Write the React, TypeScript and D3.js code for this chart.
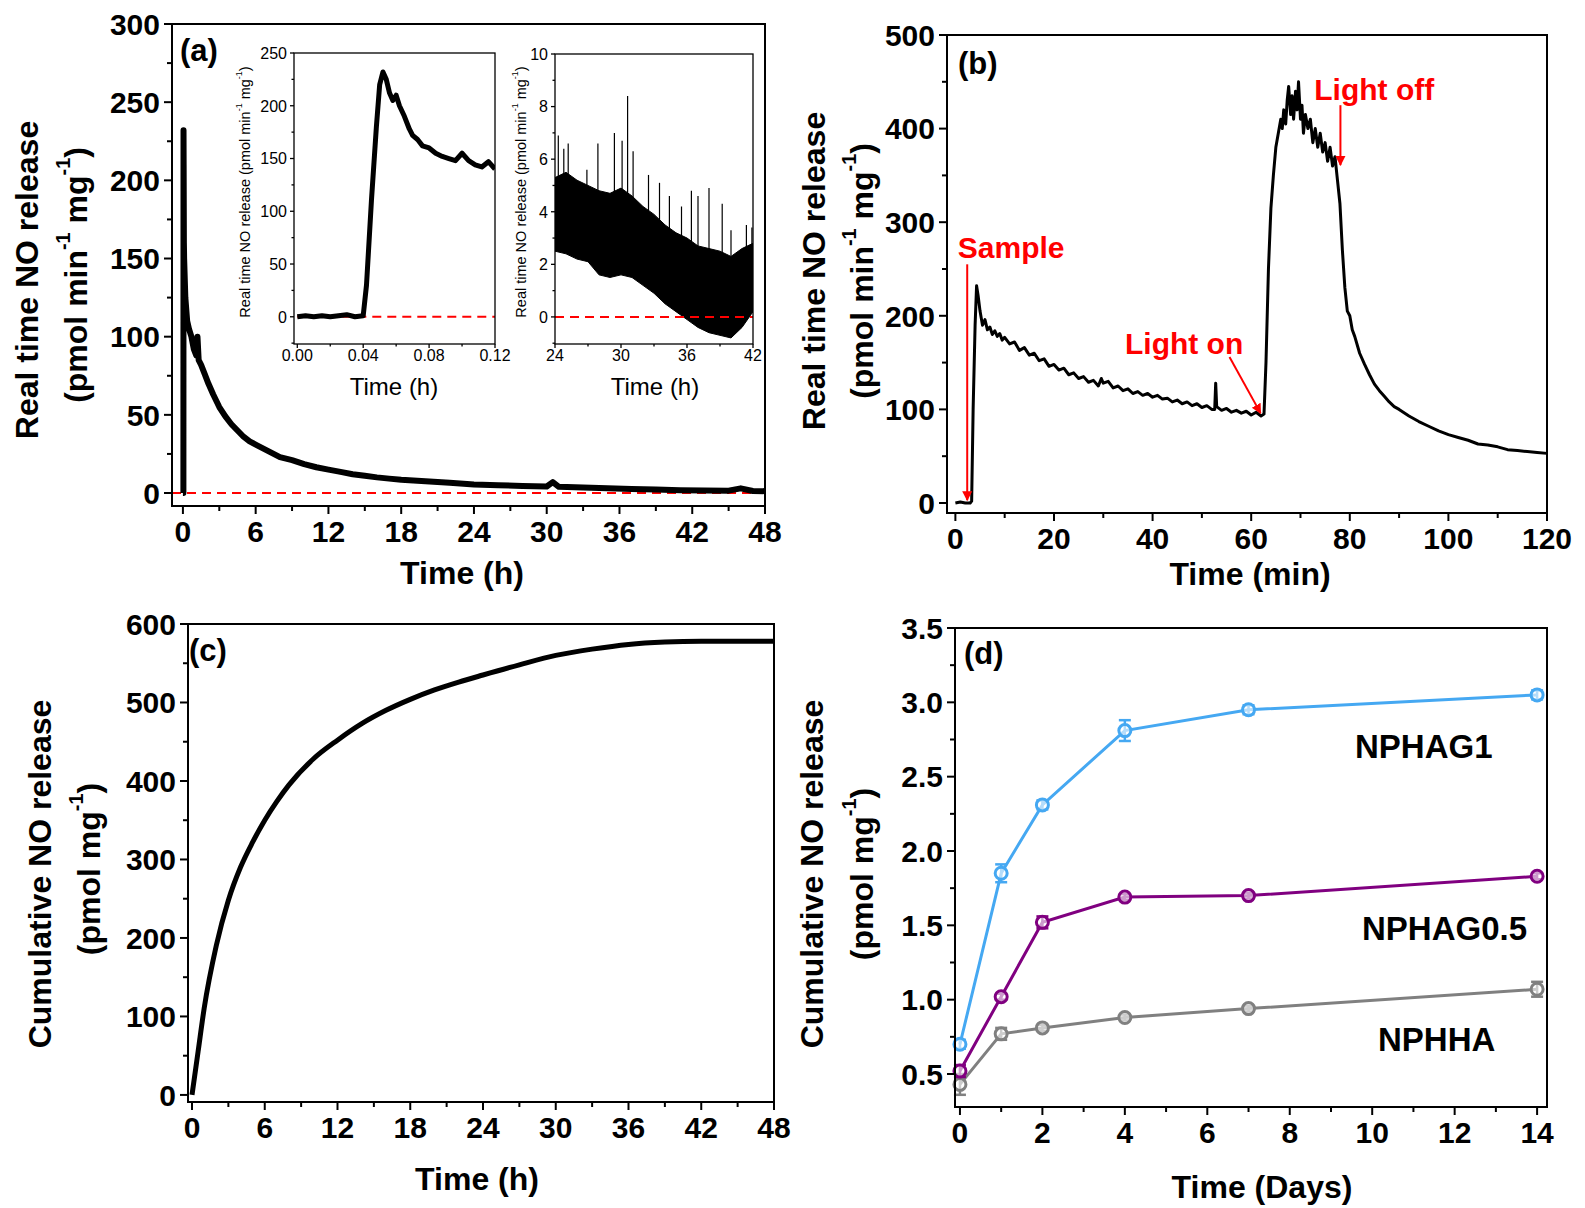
import React from 'react';
import * as d3 from 'd3';

const FONT = '"Liberation Sans", Arial, sans-serif';

// ---- panel (a): real time release over 48 h ----
const aTime = [0, 0.02, 0.04, 0.05, 0.06, 0.08, 0.1, 0.2, 0.35, 0.5, 0.7, 0.9, 1.1, 1.2, 1.3, 1.5, 1.8, 2.1, 2.5, 3, 3.5, 4, 4.5, 5, 5.5, 6, 7, 8, 9, 10, 11, 12, 13, 14, 15, 16, 17, 18, 19, 20, 22, 24, 26, 28, 30, 30.5, 31, 33, 35, 37, 39, 41, 43, 45, 46, 47, 48];
const aValue = [0, 0, 0, 232, 210, 160, 150, 125, 110, 105, 100, 92, 88, 100, 85, 82, 76, 70, 63, 55, 49, 44, 40, 36, 33, 31, 27, 23, 21, 18.5, 16.5, 15, 13.5, 12, 11, 10, 9.2, 8.5, 8, 7.5, 6.5, 5.5, 5, 4.5, 4.2, 7, 4, 3.5, 3, 2.6, 2.2, 1.8, 1.6, 1.5, 3, 1.3, 1.2];

// inset 1: first 0.12 h
const in1Time = [0, 0.005, 0.01, 0.015, 0.02, 0.025, 0.03, 0.035, 0.04, 0.042, 0.045, 0.048, 0.05, 0.052, 0.054, 0.056, 0.058, 0.06, 0.062, 0.065, 0.068, 0.07, 0.073, 0.076, 0.08, 0.084, 0.088, 0.092, 0.096, 0.1, 0.104, 0.108, 0.112, 0.116, 0.12];
const in1Value = [0, 1, 0, 1, 0, 1, 2, 0, 1, 30, 110, 180, 220, 232, 225, 212, 205, 210, 200, 190, 178, 172, 168, 162, 160, 155, 152, 150, 148, 155, 148, 144, 142, 147, 140];

// inset 2: 24-42 h, noisy band + spikes
const in2Time = [24, 25, 26, 27, 28, 29, 30, 31, 32, 33, 34, 35, 36, 37, 38, 39, 40, 41, 42];
const in2Upper = [5.3, 5.5, 5.2, 5.0, 4.8, 4.7, 4.9, 4.6, 4.2, 3.9, 3.5, 3.2, 3.0, 2.7, 2.6, 2.5, 2.3, 2.6, 2.8];
const in2Lower = [2.5, 2.4, 2.2, 2.1, 1.6, 1.5, 1.6, 1.5, 1.2, 0.9, 0.5, 0.2, -0.1, -0.4, -0.6, -0.7, -0.8, -0.4, 0.2];
const in2SpikeTime = [24.3, 24.8, 25.2, 26.9, 27.9, 29.4, 30.1, 30.6, 31.1, 32.5, 33.5, 34.4, 35.5, 36.4, 37.0, 38.0, 39.2, 40.0, 41.4, 41.9];
const in2SpikeValue = [6.9, 6.4, 6.6, 5.6, 6.6, 7.0, 6.7, 8.4, 6.3, 5.4, 5.1, 4.6, 4.2, 4.8, 4.6, 4.9, 4.3, 3.3, 3.5, 3.4];

// ---- panel (b): light triggered release, minutes ----
const bTime = [0, 1, 2, 3, 3.3, 3.6, 4, 4.3, 4.6, 5, 5.5, 6, 6.5, 7, 7.5, 8, 8.5, 9, 9.5, 10, 11, 12, 13, 14, 15, 16, 17, 18, 19, 20, 21, 22, 23, 24, 25, 26, 27, 28, 29, 29.6, 30, 31, 32, 33, 34, 35, 36, 37, 38, 39, 40, 41, 42, 43, 44, 45, 46, 47, 48, 49, 50, 51, 52, 52.6, 52.8, 53, 54, 55, 56, 57, 58, 59, 60, 61, 62, 62.6, 63, 63.5, 64, 64.5, 65, 65.5, 66, 66.3, 66.6, 67, 67.3, 67.6, 68, 68.3, 68.6, 69, 69.3, 69.6, 70, 70.3, 70.6, 71, 71.5, 72, 72.5, 73, 73.5, 74, 74.5, 75, 75.5, 76, 76.5, 77, 77.5, 78, 78.5, 79, 79.5, 80, 80.5, 81, 82, 83, 84, 85, 86, 87, 88, 89, 90, 92, 94, 96, 98, 100, 102, 104, 106, 108, 110, 112, 114, 116, 118, 120];
const bValue = [0, 1, 0, 0, 2, 100, 190, 232, 222, 205, 190, 196, 185, 188, 180, 184, 178, 181, 174, 177, 170, 172, 163, 166, 158, 160, 152, 154, 146, 148, 142, 144, 137, 139, 133, 135, 129, 131, 125, 133, 128, 130, 123, 125, 120, 122, 117, 119, 115, 117, 113, 115, 111, 112, 108, 110, 106, 108, 104, 106, 102, 104, 100, 100, 128, 103, 99, 101, 97, 99, 96, 98, 94, 97, 93, 95, 150, 250, 315, 350, 380, 395, 410, 400, 420, 405, 430, 445, 415, 435, 410, 440, 420, 450, 410, 425, 395, 415, 400, 410, 385, 400, 380, 395, 375, 385, 365, 380, 360, 370, 345, 320, 270, 230, 205, 200, 185, 178, 160, 148, 137, 127, 120, 114, 108, 103, 100, 93, 87, 82, 77, 73, 70, 67, 63, 62, 60, 57, 56, 55, 54, 53];

// ---- panel (c): cumulative release ----
const cTime = [0, 0.5, 1, 2, 3, 4, 5, 6, 7, 8, 10, 12, 14, 16, 18, 20, 22, 24, 27, 30, 33, 36, 39, 42, 45, 48];
const cValue = [0, 55, 110, 190, 248, 290, 322, 350, 374, 395, 428, 452, 473, 490, 504, 516, 526, 535, 548, 560, 568, 574, 577, 578, 578, 578];

// ---- panel (d): cumulative release over days ----
const dDays = [0, 1, 2, 4, 7, 14];
const nphag1 = [0.7, 1.85, 2.31, 2.81, 2.95, 3.05];
const nphag1Err = [0.03, 0.06, 0.03, 0.07, 0.03, 0.03];
const nphag05 = [0.52, 1.02, 1.52, 1.69, 1.7, 1.83];
const nphag05Err = [0.04, 0.02, 0.04, 0.02, 0.02, 0.02];
const nphha = [0.43, 0.77, 0.81, 0.88, 0.94, 1.07];
const nphhaErr = [0.07, 0.04, 0.02, 0.02, 0.02, 0.05];

// tick labels
const aXTicks = [0, 6, 12, 18, 24, 30, 36, 42, 48];
const aYTicks = [0, 50, 100, 150, 200, 250, 300];
const in1XTicks = [0, 0.04, 0.08, 0.12];
const in1YTicks = [0, 50, 100, 150, 200, 250];
const in2XTicks = [24, 30, 36, 42];
const in2YTicks = [0, 2, 4, 6, 8, 10];
const bXTicks = [0, 20, 40, 60, 80, 100, 120];
const bYTicks = [0, 100, 200, 300, 400, 500];
const cYTicks = [0, 100, 200, 300, 400, 500, 600];
const dXTicks = [0, 2, 4, 6, 8, 10, 12, 14];
const dYTicks = [0.5, 1, 1.5, 2, 2.5, 3, 3.5];

const zip = (xs: number[], ys: number[]) => xs.map((x, i) => [x, ys[i]] as [number, number]);
const range = (a: number, b: number, s: number) => d3.range(a, b + s / 2, s).map(v => +v.toFixed(4));

type AxesProps = {
  box: [number, number, number, number];
  xs: d3.ScaleLinear<number, number>;
  ys: d3.ScaleLinear<number, number>;
  xTicks: number[]; xMinor: number[];
  yTicks: number[]; yMinor: number[];
  xFmt: (v: number) => string; yFmt: (v: number) => string;
  fs: number; bold: boolean; lw: number; major: number; minor: number;
  xLabelOff: number; yLabelGap: number;
};

function Axes(p: AxesProps) {
  const [l, r, t, b] = p.box;
  const fw = p.bold ? 'bold' : 'normal';
  return (
    <g>
      <rect x={l} y={t} width={r - l} height={b - t} fill="none" stroke="#000" strokeWidth={p.lw} />
      {p.xMinor.map(v => (
        <line key={'xm' + v} x1={p.xs(v)} x2={p.xs(v)} y1={b} y2={b + p.minor} stroke="#000" strokeWidth={p.lw} />
      ))}
      {p.yMinor.map(v => (
        <line key={'ym' + v} x1={l} x2={l - p.minor} y1={p.ys(v)} y2={p.ys(v)} stroke="#000" strokeWidth={p.lw} />
      ))}
      {p.xTicks.map(v => (
        <g key={'x' + v}>
          <line x1={p.xs(v)} x2={p.xs(v)} y1={b} y2={b + p.major} stroke="#000" strokeWidth={p.lw} />
          <text x={p.xs(v)} y={b + p.xLabelOff} textAnchor="middle" fontSize={p.fs} fontWeight={fw} fontFamily={FONT}>{p.xFmt(v)}</text>
        </g>
      ))}
      {p.yTicks.map(v => (
        <g key={'y' + v}>
          <line x1={l} x2={l - p.major} y1={p.ys(v)} y2={p.ys(v)} stroke="#000" strokeWidth={p.lw} />
          <text x={l - p.major - p.yLabelGap} y={p.ys(v) + p.fs * 0.36} textAnchor="end" fontSize={p.fs} fontWeight={fw} fontFamily={FONT}>{p.yFmt(v)}</text>
        </g>
      ))}
    </g>
  );
}

const big = { fs: 30, bold: true, lw: 2, major: 8, minor: 5, xLabelOff: 36, yLabelGap: 4 };
const small = { fs: 16, bold: false, lw: 1.3, major: 4, minor: 2.5, xLabelOff: 17, yLabelGap: 3 };
const intFmt = (v: number) => String(v);
const TFS = 32;

function YTitle({ x, y, text, fs, bold = true }: { x: number; y: number; text: React.ReactNode; fs: number; bold?: boolean }) {
  return (
    <text transform={`translate(${x},${y}) rotate(-90)`} textAnchor="middle" dominantBaseline="central" fontSize={fs} fontWeight={bold ? 'bold' : 'normal'} fontFamily={FONT}>{text}</text>
  );
}

const Sup = ({ children, fs }: { children: React.ReactNode; fs: number }) => (
  <tspan fontSize={fs * 0.62} dy={-fs * 0.42}>{children}</tspan>
);
const Down = ({ children, fs }: { children: React.ReactNode; fs: number }) => (
  <tspan dy={fs * 0.42}>{children}</tspan>
);

const unitsRate = (fs: number) => (
  <>
    (pmol min<Sup fs={fs}>-1</Sup><Down fs={fs}> mg</Down><Sup fs={fs}>-1</Sup><Down fs={fs}>)</Down>
  </>
);
const unitsCum = (fs: number) => (
  <>
    (pmol mg<Sup fs={fs}>-1</Sup><Down fs={fs}>)</Down>
  </>
);

function Arrow({ x1, y1, x2, y2 }: { x1: number; y1: number; x2: number; y2: number }) {
  return <line x1={x1} y1={y1} x2={x2} y2={y2} stroke="#ff0000" strokeWidth={2} markerEnd="url(#redHead)" />;
}

export default function App() {
  // panel (a)
  const aBox: [number, number, number, number] = [172, 765, 24, 506];
  const aX = d3.scaleLinear().domain([-0.9, 48]).range([aBox[0], aBox[1]]);
  const aY = d3.scaleLinear().domain([-8.3, 300]).range([aBox[3], aBox[2]]);
  const in1Box: [number, number, number, number] = [294, 495, 53, 344];
  const in1X = d3.scaleLinear().domain([-0.002, 0.12]).range([in1Box[0], in1Box[1]]);
  const in1Y = d3.scaleLinear().domain([-25.8, 250]).range([in1Box[3], in1Box[2]]);
  const in2Box: [number, number, number, number] = [555, 753, 54, 344];
  const in2X = d3.scaleLinear().domain([24, 42]).range([in2Box[0], in2Box[1]]);
  const in2Y = d3.scaleLinear().domain([-1.03, 10]).range([in2Box[3], in2Box[2]]);
  // panel (b)
  const bBox: [number, number, number, number] = [947, 1547, 35, 513];
  const bX = d3.scaleLinear().domain([-1.7, 120]).range([bBox[0], bBox[1]]);
  const bY = d3.scaleLinear().domain([-10.7, 500]).range([bBox[3], bBox[2]]);
  // panel (c)
  const cBox: [number, number, number, number] = [188, 774, 624, 1102];
  const cX = d3.scaleLinear().domain([-0.33, 48]).range([cBox[0], cBox[1]]);
  const cY = d3.scaleLinear().domain([-9, 600]).range([cBox[3], cBox[2]]);
  // panel (d)
  const dBox: [number, number, number, number] = [955, 1547, 628, 1107];
  const dX = d3.scaleLinear().domain([-0.12, 14.24]).range([dBox[0], dBox[1]]);
  const dY = d3.scaleLinear().domain([0.278, 3.5]).range([dBox[3], dBox[2]]);

  const lineA = d3.line<[number, number]>().x(d => aX(d[0])).y(d => aY(d[1]));
  const lineIn1 = d3.line<[number, number]>().x(d => in1X(d[0])).y(d => in1Y(d[1]));
  const bandIn2 = d3.area<number>().x((d, i) => in2X(in2Time[i])).y0((d, i) => in2Y(in2Lower[i])).y1(d => in2Y(d));
  const lineB = d3.line<[number, number]>().x(d => bX(d[0])).y(d => bY(d[1]));
  const lineC = d3.line<[number, number]>().x(d => cX(d[0])).y(d => cY(d[1])).curve(d3.curveMonotoneX);
  const lineD = d3.line<[number, number]>().x(d => dX(d[0])).y(d => dY(d[1]));

  const dSeries = [
    { name: 'NPHHA', values: nphha, err: nphhaErr, color: '#808080', labelY: 1039, labelX: 1378 },
    { name: 'NPHAG0.5', values: nphag05, err: nphag05Err, color: '#800080', labelY: 928, labelX: 1362 },
    { name: 'NPHAG1', values: nphag1, err: nphag1Err, color: '#45a8f2', labelY: 746, labelX: 1355 },
  ];

  const dash = '9,6';

  return (
    <svg width={1585} height={1208} style={{ display: 'block', position: 'absolute', left: 0, top: 0, background: '#fff' }}>
      <defs>
        <marker id="redHead" viewBox="0 0 10 10" refX="9" refY="5" markerWidth="5" markerHeight="6" orient="auto">
          <path d="M0,0 L10,5 L0,10 z" fill="#ff0000" />
        </marker>
        <clipPath id="clipIn1"><rect x={in1Box[0]} y={in1Box[2]} width={in1Box[1] - in1Box[0]} height={in1Box[3] - in1Box[2]} /></clipPath>
        <clipPath id="clipIn2"><rect x={in2Box[0]} y={in2Box[2]} width={in2Box[1] - in2Box[0]} height={in2Box[3] - in2Box[2]} /></clipPath>
      </defs>

      {/* ---------- (a) ---------- */}
      <line x1={aX(-0.9)} x2={aX(48)} y1={aY(0)} y2={aY(0)} stroke="#ff0000" strokeWidth={2} strokeDasharray={dash} />
      <path d={lineA(zip(aTime, aValue)) || ''} fill="none" stroke="#000" strokeWidth={6} strokeLinejoin="round" />
      <Axes box={aBox} xs={aX} ys={aY} xTicks={aXTicks} xMinor={range(3, 45, 6)} yTicks={aYTicks} yMinor={range(25, 275, 50)} xFmt={intFmt} yFmt={intFmt} {...big} />
      <text x={180} y={61} fontSize={31} fontWeight="bold" fontFamily={FONT}>(a)</text>
      <YTitle x={27} y={280} fs={TFS} text="Real time NO release" />
      <YTitle x={76} y={275} fs={TFS} text={unitsRate(TFS)} />
      <text x={462} y={584} textAnchor="middle" fontSize={TFS} fontWeight="bold" fontFamily={FONT}>Time (h)</text>

      {/* inset 1 */}
      <rect x={in1Box[0]} y={in1Box[2]} width={in1Box[1] - in1Box[0]} height={in1Box[3] - in1Box[2]} fill="#fff" />
      <g clipPath="url(#clipIn1)">
        <line x1={in1X(0)} x2={in1X(0.12)} y1={in1Y(0)} y2={in1Y(0)} stroke="#ff0000" strokeWidth={2} strokeDasharray={dash} />
        <path d={lineIn1(zip(in1Time, in1Value)) || ''} fill="none" stroke="#000" strokeWidth={5} strokeLinejoin="round" />
      </g>
      <Axes box={in1Box} xs={in1X} ys={in1Y} xTicks={in1XTicks} xMinor={[0.02, 0.06, 0.1]} yTicks={in1YTicks} yMinor={range(-25, 225, 50)} xFmt={v => v.toFixed(2)} yFmt={intFmt} {...small} />
      <YTitle x={245} y={192} fs={14.5} bold={false} text={<>Real time NO release {unitsRate(14.5)}</>} />
      <text x={394} y={395} textAnchor="middle" fontSize={24} fontFamily={FONT}>Time (h)</text>

      {/* inset 2 */}
      <rect x={in2Box[0]} y={in2Box[2]} width={in2Box[1] - in2Box[0]} height={in2Box[3] - in2Box[2]} fill="#fff" />
      <g clipPath="url(#clipIn2)">
        <path d={bandIn2(in2Upper) || ''} fill="#000" stroke="#000" strokeWidth={1} />
        {in2SpikeTime.map((t, i) => (
          <line key={'sp' + i} x1={in2X(t)} x2={in2X(t)} y1={in2Y(in2SpikeValue[i])} y2={in2Y(in2Upper[Math.round(t - 24)] - 0.3)} stroke="#000" strokeWidth={1.2} />
        ))}
        <line x1={in2X(24)} x2={in2X(42)} y1={in2Y(0)} y2={in2Y(0)} stroke="#ff0000" strokeWidth={2} strokeDasharray={dash} />
      </g>
      <Axes box={in2Box} xs={in2X} ys={in2Y} xTicks={in2XTicks} xMinor={[27, 33, 39]} yTicks={in2YTicks} yMinor={[-1, 1, 3, 5, 7, 9]} xFmt={intFmt} yFmt={intFmt} {...small} />
      <YTitle x={521} y={192} fs={14.5} bold={false} text={<>Real time NO release {unitsRate(14.5)}</>} />
      <text x={655} y={395} textAnchor="middle" fontSize={24} fontFamily={FONT}>Time (h)</text>

      {/* ---------- (b) ---------- */}
      <path d={lineB(zip(bTime, bValue)) || ''} fill="none" stroke="#000" strokeWidth={3} strokeLinejoin="round" />
      <Axes box={bBox} xs={bX} ys={bY} xTicks={bXTicks} xMinor={range(10, 110, 20)} yTicks={bYTicks} yMinor={range(50, 450, 100)} xFmt={intFmt} yFmt={intFmt} {...big} />
      <text x={958} y={74} fontSize={31} fontWeight="bold" fontFamily={FONT}>(b)</text>
      <YTitle x={814} y={271} fs={TFS} text="Real time NO release" />
      <YTitle x={862} y={271} fs={TFS} text={unitsRate(TFS)} />
      <text x={1250} y={585} textAnchor="middle" fontSize={TFS} fontWeight="bold" fontFamily={FONT}>Time (min)</text>
      <text x={bX(0.5)} y={bY(262)} fontSize={30} fontWeight="bold" fill="#ff0000" fontFamily={FONT}>Sample</text>
      <Arrow x1={bX(2.4)} y1={bY(255)} x2={bX(2.4)} y2={bY(3)} />
      <text x={bX(34.4)} y={bY(159)} fontSize={30} fontWeight="bold" fill="#ff0000" fontFamily={FONT}>Light on</text>
      <Arrow x1={bX(55.6)} y1={bY(156)} x2={bX(61.9)} y2={bY(96)} />
      <text x={bX(72.8)} y={bY(431)} fontSize={30} fontWeight="bold" fill="#ff0000" fontFamily={FONT}>Light off</text>
      <Arrow x1={bX(78.1)} y1={bY(425)} x2={bX(78.1)} y2={bY(361)} />

      {/* ---------- (c) ---------- */}
      <path d={lineC(zip(cTime, cValue)) || ''} fill="none" stroke="#000" strokeWidth={5} />
      <Axes box={cBox} xs={cX} ys={cY} xTicks={aXTicks} xMinor={range(3, 45, 6)} yTicks={cYTicks} yMinor={range(50, 550, 100)} xFmt={intFmt} yFmt={intFmt} {...big} />
      <text x={189} y={661} fontSize={31} fontWeight="bold" fontFamily={FONT}>(c)</text>
      <YTitle x={40} y={874} fs={TFS} text="Cumulative NO release" />
      <YTitle x={89} y={869} fs={TFS} text={unitsCum(TFS)} />
      <text x={477} y={1190} textAnchor="middle" fontSize={TFS} fontWeight="bold" fontFamily={FONT}>Time (h)</text>

      {/* ---------- (d) ---------- */}
      {dSeries.map(s => {
        const pts = zip(dDays, s.values);
        return (
          <g key={s.name}>
            <path d={lineD(pts) || ''} fill="none" stroke={s.color} strokeWidth={3} />
            {pts.map(([x, y], i) => (
              <g key={i} stroke={s.color} strokeWidth={2.5}>
                <line x1={dX(x)} x2={dX(x)} y1={dY(y - s.err[i])} y2={dY(y + s.err[i])} />
                <line x1={dX(x) - 6} x2={dX(x) + 6} y1={dY(y - s.err[i])} y2={dY(y - s.err[i])} />
                <line x1={dX(x) - 6} x2={dX(x) + 6} y1={dY(y + s.err[i])} y2={dY(y + s.err[i])} />
                <circle cx={dX(x)} cy={dY(y)} r={6} fill="#fff" fillOpacity={0.6} strokeWidth={3} />
              </g>
            ))}
            <text x={s.labelX} y={s.labelY + 12} fontSize={33} fontWeight="bold" fontFamily={FONT}>{s.name}</text>
          </g>
        );
      })}
      <Axes box={dBox} xs={dX} ys={dY} xTicks={dXTicks} xMinor={range(1, 13, 2)} yTicks={dYTicks} yMinor={range(0.75, 3.25, 0.5)} xFmt={intFmt} yFmt={v => v.toFixed(1)} {...big} />
      <text x={964} y={664} fontSize={31} fontWeight="bold" fontFamily={FONT}>(d)</text>
      <YTitle x={812} y={874} fs={TFS} text="Cumulative NO release" />
      <YTitle x={862} y={874} fs={TFS} text={unitsCum(TFS)} />
      <text x={1262} y={1198} textAnchor="middle" fontSize={TFS} fontWeight="bold" fontFamily={FONT}>Time (Days)</text>
    </svg>
  );
}
